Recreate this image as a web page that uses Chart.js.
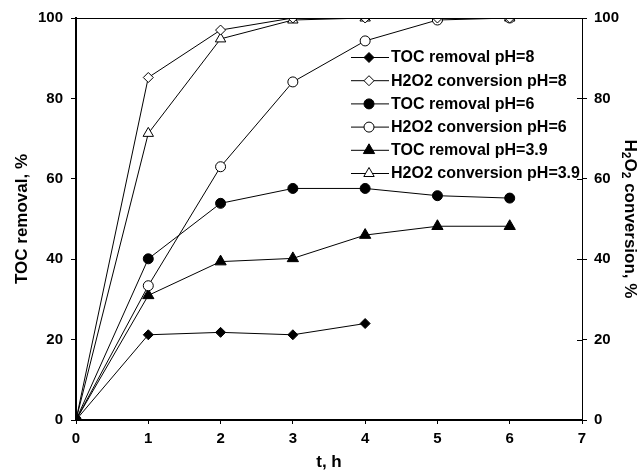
<!DOCTYPE html>
<html>
<head>
<meta charset="utf-8">
<script src="https://cdn.jsdelivr.net/npm/chart.js@4.4.1/dist/chart.umd.min.js"></script>
<style>
html,body{margin:0;padding:0;background:#fff;}
#wrap{width:642px;height:475px;position:relative;}
</style>
</head>
<body>
<div id="wrap"><canvas id="c"></canvas></div>
<script>
// ---- data ----
const hours = [0, 1, 2, 3, 4, 5, 6];
const tocPH8 = [0, 21.2, 21.8, 21.2, 24.0];
const h2o2PH8 = [0, 85.2, 97.0, 100, 100, 100, 100];
const tocPH6 = [0, 40.1, 53.9, 57.6, 57.6, 55.8, 55.2];
const h2o2PH6 = [0, 33.4, 63.0, 84.1, 94.3, 99.5, 100];
const tocPH39 = [0, 31.0, 39.4, 40.2, 46.0, 48.2, 48.2];
const h2o2PH39 = [0, 71.3, 94.8, 99.5, 100, 100, 100];
const seriesNames = ["TOC removal pH=8", "H2O2 conversion pH=8", "TOC removal pH=6",
  "H2O2 conversion pH=6", "TOC removal pH=3.9", "H2O2 conversion pH=3.9"];
const xTicks = [0, 1, 2, 3, 4, 5, 6, 7];
const yTicks = [0, 20, 40, 60, 80, 100];

const FONT = "'Liberation Sans', Arial, sans-serif";
function pts(vals){ return vals.map((v,i)=>({x:hours[i], y:v})); }

const styles = [
  {pointStyle:'rectRot', radius:5, fill:'#000'},
  {pointStyle:'rectRot', radius:5, fill:'#fff'},
  {pointStyle:'circle', radius:5, fill:'#000'},
  {pointStyle:'circle', radius:5, fill:'#fff'},
  {pointStyle:'triangle', radius:6.5, fill:'#000'},
  {pointStyle:'triangle', radius:6, fill:'#fff'}
];
const allVals = [tocPH8, h2o2PH8, tocPH6, h2o2PH6, tocPH39, h2o2PH39];

const datasets = allVals.map((vals, i) => ({
  label: seriesNames[i],
  data: pts(vals),
  borderColor: '#000',
  borderWidth: 1,
  backgroundColor: styles[i].fill,
  pointStyle: styles[i].pointStyle,
  pointRadius: styles[i].radius,
  pointBackgroundColor: styles[i].fill,
  pointBorderColor: '#000',
  pointBorderWidth: 1,
  tension: 0,
  fill: false,
  yAxisID: 'y'
}));

function drawMarker(ctx, style, x, y, r, fill){
  ctx.save();
  ctx.beginPath();
  if (style === 'circle') {
    ctx.arc(x, y, r, 0, Math.PI*2);
  } else if (style === 'rectRot') {
    const d = r;
    ctx.moveTo(x, y - d); ctx.lineTo(x + d, y); ctx.lineTo(x, y + d); ctx.lineTo(x - d, y);
  } else if (style === 'triangle') {
    let rad = 0;
    ctx.moveTo(x + Math.sin(rad)*r, y - Math.cos(rad)*r);
    rad += 2*Math.PI/3;
    ctx.lineTo(x + Math.sin(rad)*r, y - Math.cos(rad)*r);
    rad += 2*Math.PI/3;
    ctx.lineTo(x + Math.sin(rad)*r, y - Math.cos(rad)*r);
  }
  ctx.closePath();
  ctx.fillStyle = fill; ctx.fill();
  ctx.strokeStyle = '#000'; ctx.lineWidth = 1; ctx.stroke();
  ctx.restore();
}

const decor = {
  id: 'decor',
  afterDraw(chart) {
    const ctx = chart.ctx;
    const a = chart.chartArea;
    const y2 = chart.scales.y2;
    ctx.save();
    // top border
    ctx.strokeStyle = '#000'; ctx.lineWidth = 1;
    ctx.beginPath(); ctx.moveTo(a.left, a.top + 0.5); ctx.lineTo(a.right, a.top + 0.5); ctx.stroke();
    // inward tick halves on right axis
    y2.ticks.forEach(t => {
      const py = Math.round(y2.getPixelForValue(t.value)) + 0.5;
      ctx.beginPath(); ctx.moveTo(a.right - 5, py); ctx.lineTo(a.right, py); ctx.stroke();
    });
    // axis titles
    ctx.fillStyle = '#000';
    ctx.font = 'bold 17px ' + FONT;
    ctx.textAlign = 'center'; ctx.textBaseline = 'middle';
    ctx.fillText('t, h', (a.left + a.right)/2, 462);
    ctx.save();
    ctx.translate(22, (a.top + a.bottom)/2);
    ctx.rotate(-Math.PI/2);
    ctx.fillText('TOC removal, %', 0, 0);
    ctx.restore();
    // right title with subscripts
    ctx.save();
    ctx.translate(631, (a.top + a.bottom)/2);
    ctx.rotate(Math.PI/2);
    const parts = [['H',0],['2',1],['O',0],['2',1],[' conversion, %',0]];
    const big = 'bold 17px ' + FONT, small = 'bold 12px ' + FONT;
    let total = 0;
    parts.forEach(p => { ctx.font = p[1] ? small : big; total += ctx.measureText(p[0]).width; });
    let cx = -total/2;
    ctx.textAlign = 'left'; ctx.textBaseline = 'alphabetic';
    parts.forEach(p => {
      ctx.font = p[1] ? small : big;
      ctx.fillText(p[0], cx, p[1] ? 9 : 6);
      cx += ctx.measureText(p[0]).width;
    });
    ctx.restore();
    // legend
    ctx.font = 'bold 16px ' + FONT;
    ctx.textAlign = 'left'; ctx.textBaseline = 'middle';
    chart.data.datasets.forEach((ds, i) => {
      const ly = 57 + i * 23.2;
      ctx.strokeStyle = '#000'; ctx.lineWidth = 1;
      ctx.beginPath(); ctx.moveTo(351, ly + 0.5); ctx.lineTo(389, ly + 0.5); ctx.stroke();
      drawMarker(ctx, ds.pointStyle, 369, ly + 0.5, ds.pointRadius, ds.pointBackgroundColor);
      ctx.fillStyle = '#000';
      ctx.fillText(ds.label, 391, ly + 1);
    });
    ctx.restore();
  }
};

const tickFont = {family: FONT, size: 15, weight: 'bold'};

new Chart(document.getElementById('c'), {
  type: 'line',
  data: { datasets },
  options: {
    responsive: true,
    maintainAspectRatio: false,
    animation: false,
    events: [],
    layout: { padding: { top: 18, left: 0, right: 0, bottom: 0 } },
    plugins: { legend: { display: false }, tooltip: { enabled: false } },
    scales: {
      x: {
        type: 'linear', min: 0, max: 7,
        afterBuildTicks(s){ s.ticks = xTicks.map(v => ({value: v})); },
        afterFit(s){ s.height = 55; },
        ticks: { font: tickFont, color: '#000', padding: 6, maxRotation: 0 },
        grid: { display: true, drawOnChartArea: false, drawTicks: true, tickLength: 4, color: '#000', lineWidth: 1 },
        border: { display: true, color: '#000', width: 2 }
      },
      y: {
        position: 'left', min: 0, max: 100,
        afterBuildTicks(s){ s.ticks = yTicks.map(v => ({value: v})); },
        afterFit(s){ s.width = 76; },
        ticks: { font: tickFont, color: '#000', padding: 8 },
        grid: { display: true, drawOnChartArea: false, drawTicks: true, tickLength: 5, color: '#000', lineWidth: 1 },
        border: { display: true, color: '#000', width: 2 }
      },
      y2: {
        position: 'right', min: 0, max: 100,
        afterBuildTicks(s){ s.ticks = yTicks.map(v => ({value: v})); },
        afterFit(s){ s.width = 60; },
        ticks: { font: tickFont, color: '#000', padding: 7 },
        grid: { display: true, drawOnChartArea: false, drawTicks: true, tickLength: 5, color: '#000', lineWidth: 1 },
        border: { display: true, color: '#000', width: 1 }
      }
    }
  },
  plugins: [decor]
});
</script>
</body>
</html>
